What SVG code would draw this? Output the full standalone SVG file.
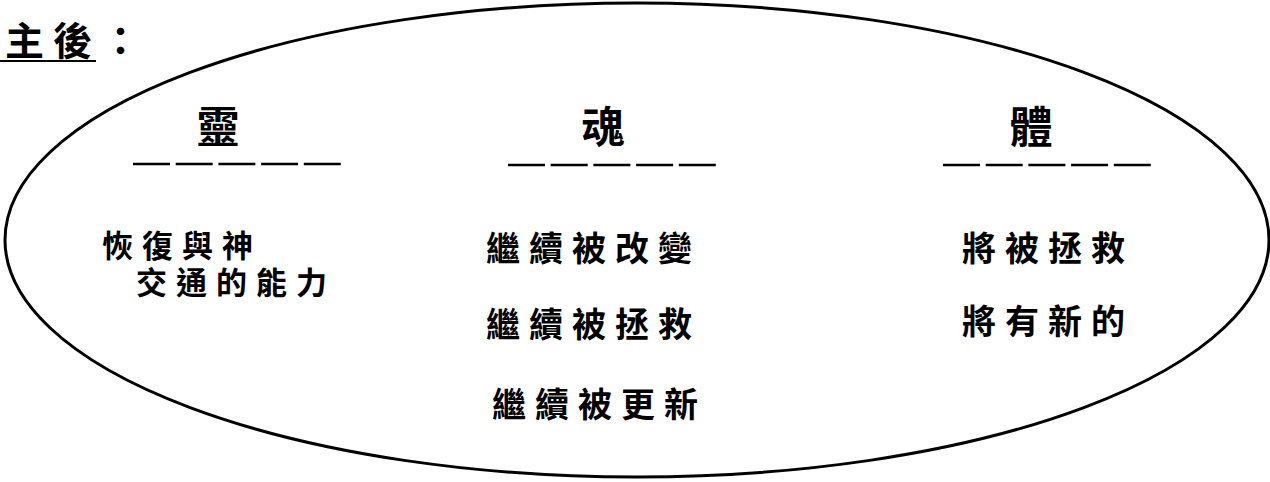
<svg xmlns="http://www.w3.org/2000/svg" width="1270" height="482" viewBox="0 0 1270 482">
<style>
.t{font-family:"Noto Sans CJK TC","Noto Sans CJK SC",sans-serif;fill:#000;font-weight:bold}
.h{font-size:43px;text-anchor:middle}
.b{font-size:34px;letter-spacing:9px}
.s{font-size:31px;letter-spacing:9px}
.d{stroke:#000;stroke-width:2.5;stroke-dasharray:37 5.7;fill:none}
</style>
<rect width="1270" height="482" fill="#fff"/>
<g id="title">
<text class="t" x="5" y="55" style="font-size:39px;letter-spacing:9px">主後：</text>
<line x1="0" y1="61" x2="96" y2="61" stroke="#000" stroke-width="2"/>
</g>
<g id="ellipse">
<ellipse cx="637" cy="240" rx="632" ry="237" fill="none" stroke="#000" stroke-width="3"/>
</g>
<g id="spirit">
<text class="t h" x="218" y="143">靈</text>
<line class="d" x1="133" y1="164" x2="342" y2="164"/>
<text class="t s" x="102" y="257">恢復與神</text>
<text class="t s" x="136" y="294">交通的能力</text>
</g>
<g id="soul">
<text class="t h" x="603" y="143">魂</text>
<line class="d" x1="508" y1="165" x2="717" y2="165"/>
<text class="t b" x="486" y="261">繼續被改變</text>
<text class="t b" x="486" y="337">繼續被拯救</text>
<text class="t b" x="492" y="417">繼續被更新</text>
</g>
<g id="body">
<text class="t h" x="1031" y="143">體</text>
<line class="d" x1="943" y1="165" x2="1152" y2="165"/>
<text class="t b" x="962" y="261">將被拯救</text>
<text class="t b" x="962" y="334">將有新的</text>
</g>
<g id="connectors"></g>
</svg>
